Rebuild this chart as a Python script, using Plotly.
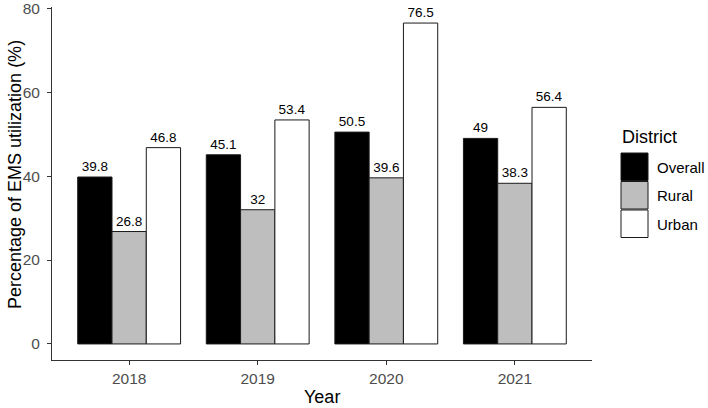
import plotly.graph_objects as go

years = ["2018", "2019", "2020", "2021"]
districts = ["Overall", "Rural", "Urban"]
overall = [39.8, 45.1, 50.5, 49]
rural = [26.8, 32, 39.6, 38.3]
urban = [46.8, 53.4, 76.5, 56.4]
y_ticks = [0, 20, 40, 60, 80]

series = {"Overall": overall, "Rural": rural, "Urban": urban}
fills = {"Overall": "#000000", "Rural": "#BEBEBE", "Urban": "#FFFFFF"}

W, H = 708, 408
L, R, T, B = 52, 116, 7, 48
pw, ph = W - L - R, H - T - B

def px_x(x):
    return (x - L) / pw

def px_y(y):
    return (H - B - y) / ph

FONT = "Liberation Sans, Arial, sans-serif"

fig = go.Figure()
for d in districts:
    vals = series[d]
    fig.add_trace(go.Bar(
        x=years, y=vals, name=d,
        marker=dict(color=fills[d], line=dict(color="#1a1a1a", width=1)),
        text=[f"{v:g}" for v in vals],
        textposition="outside",
        constraintext="none",
        cliponaxis=False,
        textfont=dict(family=FONT, size=13.5, color="#000000"),
        showlegend=False,
    ))

# axis titles
fig.add_annotation(text="Year", xref="paper", yref="paper",
                   x=px_x(322), y=px_y(397), xanchor="center", yanchor="middle",
                   showarrow=False, font=dict(family=FONT, size=18, color="#000000"))
fig.add_annotation(text="Percentage of EMS utilization (%)", xref="paper", yref="paper",
                   x=px_x(15), y=px_y(175), xanchor="center", yanchor="middle", textangle=-90,
                   showarrow=False, font=dict(family=FONT, size=18, color="#000000"))

# custom legend (ggplot style keys)
fig.add_annotation(text="District", xref="paper", yref="paper",
                   x=px_x(620), y=px_y(137), xanchor="left", yanchor="middle",
                   showarrow=False, font=dict(family=FONT, size=18, color="#000000"))
key_tops = [153, 181.5, 210]
for d, top in zip(districts, key_tops):
    fig.add_shape(type="rect", xref="paper", yref="paper",
                  x0=px_x(621), x1=px_x(648), y0=px_y(top), y1=px_y(top + 27.5),
                  fillcolor=fills[d], line=dict(color="#1a1a1a", width=1))
    fig.add_annotation(text=d, xref="paper", yref="paper",
                       x=px_x(655), y=px_y(top + 14), xanchor="left", yanchor="middle",
                       showarrow=False, font=dict(family=FONT, size=15, color="#000000"))

fig.update_layout(
    width=W, height=H,
    margin=dict(l=L, r=R, t=T, b=B, pad=0, autoexpand=False),
    paper_bgcolor="white", plot_bgcolor="white",
    barmode="group", bargap=0.2, bargroupgap=0,
    font=dict(family=FONT),
    xaxis=dict(
        range=[-0.6, 3.6], showline=True, linecolor="#333333", linewidth=1,
        ticks="outside", ticklen=4, tickcolor="#333333",
        tickfont=dict(family=FONT, size=15.5, color="#4D4D4D"),
        automargin=False, ticklabeloverflow="allow",
        showgrid=False, zeroline=False,
    ),
    yaxis=dict(
        range=[-3.825, 80.325], tickmode="array", tickvals=y_ticks,
        ticktext=[str(v) for v in y_ticks],
        showline=True, linecolor="#333333", linewidth=1,
        ticks="outside", ticklen=4, tickcolor="#333333",
        tickfont=dict(family=FONT, size=15.5, color="#4D4D4D"),
        ticklabelstandoff=4,
        automargin=False, ticklabeloverflow="allow",
        showgrid=False, zeroline=False,
    ),
)

fig.write_html("out.html", config={"displayModeBar": False},
               post_script="document.body.style.margin='0';document.body.style.overflow='hidden';")
